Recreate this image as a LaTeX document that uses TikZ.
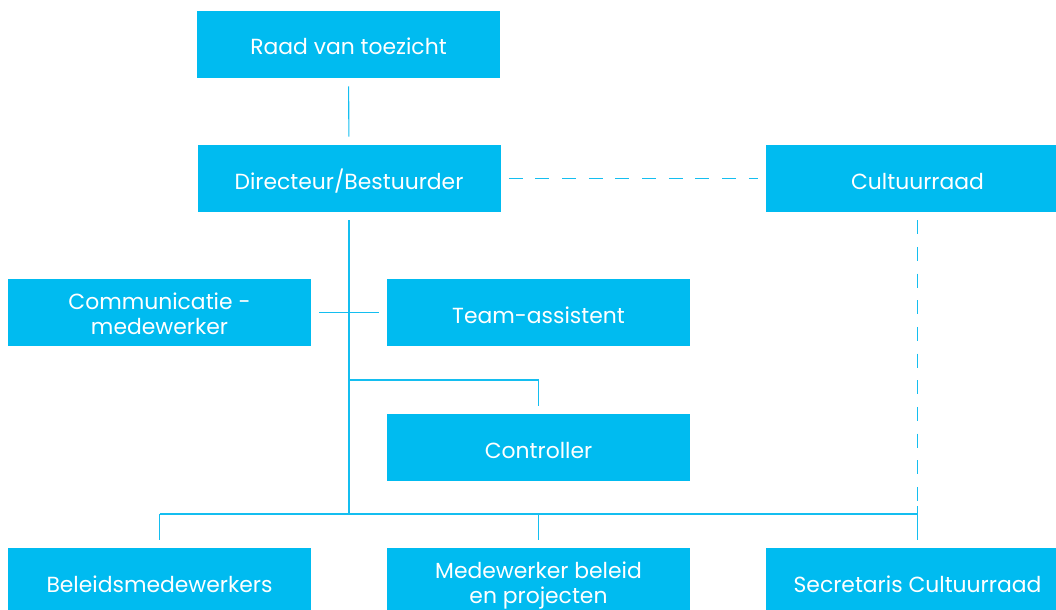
\documentclass[tikz,border=0pt]{standalone}
\usepackage{fontspec}
\setmainfont{Poppins}
\usetikzlibrary{calc}
\definecolor{boxblue}{RGB}{0,187,240}
\definecolor{lineblue}{RGB}{20,190,240}
\newcommand{\twolines}[2]{\begin{tabular}[t]{@{}c@{}}#1\\#2\end{tabular}}
\begin{document}
\begin{tikzpicture}[x=0.75pt,y=-0.75pt,
  orgbox/.style={rectangle, fill=boxblue, text=white, minimum width=227.25pt, minimum height=50.25pt, inner sep=0pt, font=\fontsize{16.4}{18.75}\selectfont},
  onebox/.style={orgbox, text height=15.75pt, text depth=0pt},
  twobox/.style={orgbox, text height=13.125pt, text depth=18.375pt},
  conn/.style={draw=lineblue, line width=0.8pt},
  dashconn/.style={draw=lineblue, line width=0.8pt, dash pattern=on 10.5pt off 9.5pt},
  busline/.style={draw=lineblue, line width=1.1pt}]
\useasboundingbox (0,0) rectangle (1056,610);
\node[onebox] (raad) at (348.5,44.5) {Raad van toezicht};
\node[onebox] (dir) at (349,178.5) {Directeur/Bestuurder};
\node[onebox] (cult) at (917.5,178.5) {Cultuurraad};
\node[twobox] (comm) at (159.5,312.5) {\twolines{Communicatie -}{medewerker}};
\node[onebox] (team) at (538.5,312.5) {Team-assistent};
\node[onebox] (ctrl) at (538.5,447.5) {Controller};
\node[onebox] (beleid) at (159.5,581.5) {Beleidsmedewerkers};
\node[twobox] (medew) at (538.5,581.5) {\twolines{Medewerker beleid}{en projecten}};
\node[onebox] (secr) at (917.5,581.5) {Secretaris Cultuurraad};
\coordinate (bus) at (348,514);
\coordinate (junc) at (348,380);
\coordinate (cd) at ($(cult.south |- bus)+(0,-8)$);
% connectors
\draw[conn, shorten <=6pt, shorten >=6pt] (raad) -- (dir);
\draw[dashconn, shorten <=6pt, shorten >=6pt] (dir.east) -- (cult.west);
\draw[conn, shorten <=6pt] (dir.south) -- (dir.south |- bus);
\draw[conn, shorten <=6pt, shorten >=6pt] (comm.east) -- (team.west);
\draw[conn, shorten >=6pt] (dir.south |- junc) -| (ctrl.north);
\draw[busline] (beleid.north |- bus) -- (secr.north |- bus);
\draw[conn, shorten >=6pt] (beleid.north |- bus) -- (beleid.north);
\draw[conn, shorten >=6pt] (medew.north |- bus) -- (medew.north);
\draw[dashconn, shorten <=6pt] (cult.south) -- (cd);
\draw[conn, shorten >=6pt] (cd) -- (secr.north);
\end{tikzpicture}
\end{document}
